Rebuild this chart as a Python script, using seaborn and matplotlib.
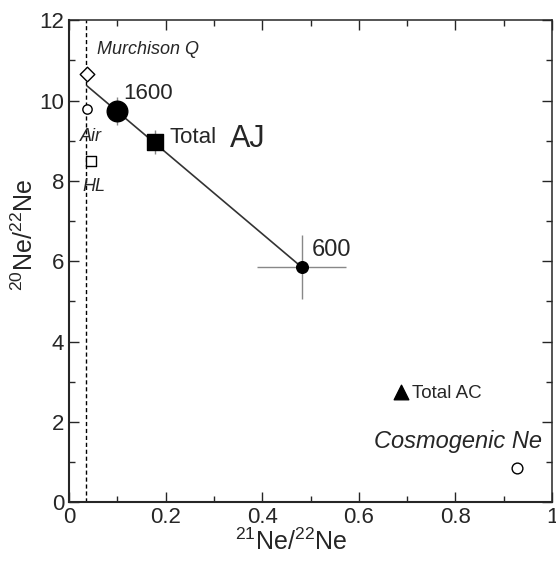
import matplotlib
matplotlib.use("Agg")
import matplotlib.pyplot as plt
import seaborn as sns
import pandas as pd
from matplotlib.ticker import MultipleLocator

sns.set_style("ticks")
plt.rcParams['font.family'] = ['Liberation Sans', 'DejaVu Sans']
plt.rcParams['mathtext.fontset'] = 'custom'
plt.rcParams['mathtext.rm'] = 'Liberation Sans'
plt.rcParams['mathtext.it'] = 'Liberation Sans:italic'

# Data
names = ["Murchison Q", "Air", "HL", "1600", "Total AJ", "600", "Total AC", "Cosmogenic Ne"]
ne21_22 = [0.037, 0.037, 0.045, 0.099, 0.178, 0.482, 0.687, 0.927]
ne20_22 = [10.67, 9.78, 8.50, 9.75, 8.96, 5.85, 2.74, 0.85]
xerr = [0, 0, 0, 0.012, 0.015, 0.092, 0, 0]
yerr = [0, 0, 0, 0.35, 0.30, 0.80, 0, 0]
markers = ["D", "o", "s", "o", "s", "o", "^", "o"]
filled = [False, False, False, True, True, True, True, False]
sizes = [55, 45, 60, 220, 130, 70, 110, 60]

mix_x = [0.037, 0.482]
mix_y = [10.37, 5.85]
dash_x = 0.035

df = pd.DataFrame({"x": ne21_22, "y": ne20_22, "name": names})

fig = plt.figure(figsize=(5.56, 5.63), dpi=100)
ax = fig.add_axes([0.124, 0.108, 0.869, 0.856])

ax.axvline(dash_x, color="black", ls=(0, (3, 2)), lw=1.0, zorder=1)
sns.lineplot(x=mix_x, y=mix_y, ax=ax, color="#333333", lw=1.2, zorder=2)

for i in range(len(names)):
    if xerr[i] or yerr[i]:
        ax.errorbar(ne21_22[i], ne20_22[i], xerr=xerr[i], yerr=yerr[i],
                    fmt="none", ecolor="#888888", elinewidth=1.0, capsize=0, zorder=3)

for i in range(len(names)):
    sub = df.iloc[[i]]
    sns.scatterplot(data=sub, x="x", y="y", ax=ax, marker=markers[i], s=sizes[i],
                    facecolor="black" if filled[i] else "white",
                    edgecolor="black", linewidth=1.0, zorder=4, legend=False)

ax.text(0.058, 11.15, "Murchison Q", fontsize=13, style="italic")
ax.text(0.022, 9.0, "Air", fontsize=13, style="italic")
ax.text(0.028, 7.75, "HL", fontsize=13, style="italic")
ax.text(0.112, 10.05, "1600", fontsize=16)
ax.text(0.208, 8.95, "Total", fontsize=16)
ax.text(0.333, 8.85, "AJ", fontsize=22)
ax.text(0.502, 6.12, "600", fontsize=17)
ax.text(0.71, 2.6, "Total AC", fontsize=13.5)
ax.text(0.632, 1.36, "Cosmogenic Ne", fontsize=17, style="italic")

ax.set_xlim(0, 1)
ax.set_ylim(0, 12)
ax.xaxis.set_minor_locator(MultipleLocator(0.1))
ax.yaxis.set_major_locator(MultipleLocator(2))
ax.yaxis.set_minor_locator(MultipleLocator(1))
ax.set_xticks([0, 0.2, 0.4, 0.6, 0.8, 1.0])
ax.set_xticklabels(["0", "0.2", "0.4", "0.6", "0.8", "1"])
ax.tick_params(which="both", direction="in", top=True, right=True, labelsize=16, width=1.0)
ax.tick_params(which="major", length=7)
ax.tick_params(which="minor", length=4)
for s in ax.spines.values():
    s.set_linewidth(1.1)
    s.set_visible(True)
ax.spines["left"].set_linewidth(1.5)
ax.spines["bottom"].set_linewidth(1.5)

ax.set_xlabel(r"$^{21}$Ne/$^{22}$Ne", fontsize=18)
ax.set_ylabel(r"$^{20}$Ne/$^{22}$Ne", fontsize=18)
ax.xaxis.set_label_coords(0.46, -0.055)
ax.yaxis.set_label_coords(-0.064, 0.555)

fig.savefig("out.png", dpi=100)
